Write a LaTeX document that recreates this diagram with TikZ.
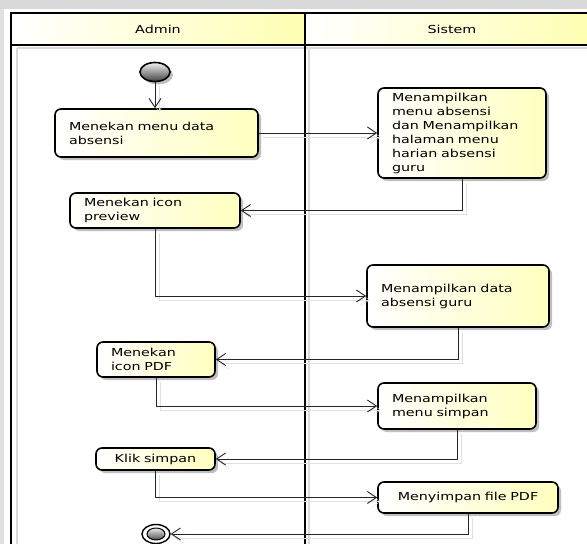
\documentclass[tikz,border=0pt]{standalone}
\usepackage{fontspec}
\newfontfamily\umlfont[FakeStretch=1.3]{DejaVu Sans}
\usetikzlibrary{arrows.meta,shapes.geometric,shadows}

\begin{document}
\begin{tikzpicture}[
	x=1pt, y=-1pt,
	font=\umlfont\fontsize{11}{14}\selectfont,
	action/.style={draw, line width=1.6pt, rounded corners=6pt,
		left color=white, right color=yellow!25,
		drop shadow={shadow xshift=3pt, shadow yshift=-3pt, opacity=.25, fill=black},
		inner xsep=14pt, inner ysep=2pt, align=left},
	flow/.style={draw=black!85, line width=.9pt, -{Straight Barb[length=9pt,width=12pt]},
		preaction={draw=black!12, transform canvas={shift={(4pt,-4pt)}}}},
	startnode/.style={ellipse, draw, line width=1.6pt, inner sep=0pt,
		minimum width=30pt, minimum height=19pt, top color=gray!10, bottom color=black!75,
		drop shadow={shadow xshift=3pt, shadow yshift=-3pt, opacity=.25, fill=black}},
	endnode/.style={ellipse, draw, line width=1.4pt, fill=white, inner sep=0pt,
		minimum width=28pt, minimum height=19pt},
	endcore/.style={ellipse, draw, line width=1pt, inner sep=0pt,
		minimum width=18pt, minimum height=12pt, top color=gray!15, bottom color=black!70},
	header/.style={left color=white, right color=yellow!30}]
\useasboundingbox (0,0) rectangle (587,544);
% background and swimlanes
\fill[black!15] (0,0) rectangle (587,9);
\fill[black!12] (0,9) rectangle (4,544);
\fill[header] (11,13) rectangle (305,45);
\fill[header] (305,13) rectangle (592,45);
\node (admin) at (158,29) {Admin};
\node (sistem) at (452,29) {Sistem};
\draw[black!15, line width=1.5pt] (17,48) -- (17,550) (309,48) -- (309,550) (17,48) -- (592,48);
\draw[line width=1.5pt] (11,13) -- (592,13) (11,45) -- (592,45);
\draw[line width=2pt] (11,12) -- (11,550);
\draw[line width=2.4pt] (305,12) -- (305,550);

% activities
\node[startnode] (start) at (155,72) {};
\node[action, text width=175pt, minimum height=48pt] (menu) at (156.5,133) {Menekan menu data\\absensi};
\node[action, text width=140pt, minimum height=90pt] (tampil) at (462,133) {Menampilkan\\menu absensi\\dan Menampilkan\\halaman menu\\harian absensi\\guru};
\node[action, text width=142pt, minimum height=35pt] (preview) at (155,210.5) {Menekan icon\\preview};
\node[action, text width=154pt, minimum height=62pt] (data) at (458,296) {Menampilkan data\\absensi guru};
\node[action, text width=90pt, minimum height=35pt] (pdf) at (156,359.5) {Menekan\\icon PDF};
\node[action, text width=130pt, minimum height=46pt] (simpanmenu) at (457,406) {Menampilkan\\menu simpan};
\node[action, text width=91pt, minimum height=22pt, align=center] (klik) at (155.5,459) {Klik simpan};
\node[action, text width=152pt, minimum height=31pt, align=center] (file) at (468,497.5) {Menyimpan file PDF};
\node[endnode] (stop) at (156,534) {};
\node[endcore] (stopcore) at (stop) {};

% flows
\draw[flow] (start) -- (start |- menu.north);
\draw[flow] (menu) -- (tampil);
\draw[flow] (tampil.south) |- (preview);
\draw[flow] (preview.south) |- (data);
\draw[flow] (data.south) |- (pdf);
\draw[flow] (pdf.south) |- (simpanmenu);
\draw[flow] (simpanmenu.south) |- (klik);
\draw[flow] (klik.south) |- (file);
\draw[flow] (file.south) |- (stop);
\end{tikzpicture}
\end{document}
